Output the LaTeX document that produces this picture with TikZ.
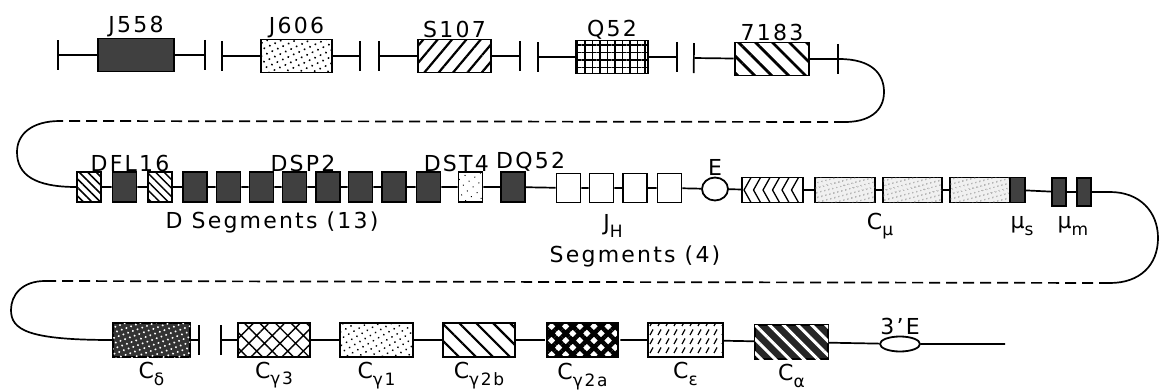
\documentclass[tikz,border=0pt]{standalone}
\usepackage{fontspec}
\setmainfont{DejaVu Sans}[LetterSpace=10]
\usetikzlibrary{patterns,patterns.meta,arrows.meta,shapes.geometric}
\newcommand{\lblfont}{\fontsize{22}{24}\selectfont}
\newcommand{\lowsub}[1]{\raisebox{-0.55ex}{\fontsize{17}{17}\selectfont #1}}
\pgfdeclarepatternformonly{slashdash}{\pgfqpoint{-1pt}{-1pt}}{\pgfqpoint{9pt}{10pt}}{\pgfqpoint{8pt}{9pt}}{%
  \pgfsetlinewidth{1.2pt}\pgfpathmoveto{\pgfqpoint{2pt}{1pt}}\pgfpathlineto{\pgfqpoint{5pt}{6.5pt}}\pgfusepath{stroke}}
\tikzset{
  seg/.style={draw, line width=1.8pt, inner sep=0pt, minimum width=73pt, minimum height=33pt},
  dseg/.style={seg, minimum width=24pt, minimum height=30pt},
  dark/.style={fill=black!75},
  gline/.style={line width=1.7pt},
  gap/.style={gline, dash pattern=on 11pt off 6pt},
  lbl/.style={font=\lblfont, inner sep=1pt},
  toplbl/.style={lbl, label distance=-1pt},
  tickl/.style={gline, {Bar[width=30pt,line width=1.7pt]}-},
  tickr/.style={gline, -{Bar[width=30pt,line width=1.7pt]}},
  chev/.style={path picture={\foreach \k in {0,...,5}{\draw[line width=1.3pt] ([xshift=\k*9.5pt+9pt]path picture bounding box.north west) -- ([xshift=\k*9.5pt+2pt]path picture bounding box.west) -- ([xshift=\k*9.5pt+9pt]path picture bounding box.south west);}}}
}

\begin{document}
\begin{tikzpicture}[x=1pt, y=-1pt]
\useasboundingbox (0,0) rectangle (1161,390);
% V segments
\node[seg, minimum width=76pt, dark, label={[toplbl]above:J558}] (j558) at (136,55) {};
\node[seg, minimum width=71pt, pattern={Dots[distance=6pt,radius=1.1pt,angle=25]}, label={[toplbl]above:J606}] (j606) at (296.5,56) {};
\node[seg, pattern={Lines[angle=50,distance=11pt,line width=2.2pt]}, label={[toplbl]above:S107}] (s107) at (454.5,56) {};
\node[seg, minimum width=72pt, pattern={Hatch[angle=0,distance=7.5pt,line width=1.1pt]}, label={[toplbl]above:Q52}] (q52) at (612,57) {};
\node[seg, minimum width=74pt, pattern={Lines[angle=-45,distance=12pt,line width=2.7pt]}, label={[toplbl]above:7183}] (v7183) at (772,59) {};
\coordinate (t1) at (57,55);
\coordinate (t2) at (206,55);
\coordinate (t3) at (221,56);
\coordinate (t4) at (361,56);
\coordinate (t5) at (378,56);
\coordinate (t6) at (521,56);
\coordinate (t7) at (537,57);
\coordinate (t8) at (678,57);
\coordinate (t9) at (693,58);
\coordinate (t10) at (839,59);
\draw[tickl] (t1) -- (j558);
\draw[tickr] (j558) -- (t2);
\draw[tickl] (t3) -- (j606);
\draw[tickr] (j606) -- (t4);
\draw[tickl] (t5) -- (s107);
\draw[tickr] (s107) -- (t6);
\draw[tickl] (t7) -- (q52);
\draw[tickr] (q52) -- (t8);
\draw[tickl] (t9) -- (v7183);
\draw[tickr] (v7183) -- (t10);
% D segments
\node[dseg, pattern={Lines[angle=-45,distance=6pt,line width=1.5pt]}] (d1) at (89,187) {};
\node[dseg, dark] (d2) at (124.5,187) {};
\node[dseg, pattern={Lines[angle=-45,distance=6pt,line width=1.5pt]}] (d3) at (160,187) {};
\node[dseg, dark] (d4) at (195,187) {};
\node[dseg, dark] (d5) at (228.5,187) {};
\node[dseg, dark] (d6) at (261.5,187) {};
\node[dseg, dark] (d7) at (294.5,187) {};
\node[dseg, dark] (d8) at (328,187) {};
\node[dseg, dark] (d9) at (360.5,187) {};
\node[dseg, dark] (d10) at (394,187) {};
\node[dseg, dark] (d11) at (428.5,187) {};
\node[dseg, pattern={Dots[distance=7pt,radius=0.7pt,angle=35]}] (d12) at (470.5,187) {};
\node[dseg, dark] (d13) at (513,187) {};
\node[lbl, anchor=south] (ldfl) at (130,173) {DFL16};
\node[lbl, anchor=south] (ldsp) at (303,173) {DSP2};
\node[lbl, anchor=south east] (ldst) at (490,173) {DST4};
\node[lbl, anchor=south west] (ldq) at (495,173) {DQ52};
\node[lbl] (ldseg) at (272,222) {D Segments (13)};
% J segments, enhancer, C mu
\node[dseg, fill=white, minimum height=29pt] (jh1) at (568.5,188) {};
\node[dseg, fill=white, minimum height=29pt] (jh2) at (601.5,188) {};
\node[dseg, fill=white, minimum height=29pt] (jh3) at (635,188) {};
\node[dseg, fill=white, minimum height=29pt] (jh4) at (669.5,188) {};
\node[lbl] (ljh) at (613,226) {J\lowsub{H}};
\node[lbl] (lsegs) at (635,256) {Segments (4)};
\node[ellipse, draw, line width=1.8pt, fill=white, inner sep=0pt, minimum width=26pt, minimum height=23pt, label={[lbl]above:E}] (enh) at (715,189) {};
\node[seg, minimum width=61pt, minimum height=25pt, chev] (cmw) at (772.5,190) {};
\node[seg, minimum width=60pt, minimum height=25pt, fill=black!6, postaction={pattern={Dots[distance=4pt,radius=0.7pt,angle=15]}, pattern color=black!60}] (cm1) at (845,190) {};
\node[seg, minimum width=59pt, minimum height=25pt, fill=black!6, postaction={pattern={Dots[distance=4pt,radius=0.7pt,angle=15]}, pattern color=black!60}] (cm2) at (912.5,190) {};
\node[seg, minimum width=60pt, minimum height=25pt, fill=black!6, postaction={pattern={Dots[distance=4pt,radius=0.7pt,angle=15]}, pattern color=black!60}] (cm3) at (980,190) {};
\node[seg, dark, minimum width=15pt, minimum height=25pt] (mus) at (1017.5,190) {};
\node[seg, dark, minimum width=14pt, minimum height=28pt] (mum1) at (1059,192) {};
\node[seg, dark, minimum width=14pt, minimum height=28pt] (mum2) at (1084,192) {};
\node[lbl] (lcmu) at (880,226) {C\lowsub{μ}};
\node[lbl] (lmus) at (1022,226) {μ\lowsub{s}};
\node[lbl] (lmum) at (1073,226) {μ\lowsub{m}};
\draw[gline] (d1) -- (d2) -- (d3) -- (d4) -- (d5) -- (d6) -- (d7) -- (d8) -- (d9) -- (d10) -- (d11) -- (d12) -- (d13) -- (jh1) -- (jh2) -- (jh3) -- (jh4) -- (enh) -- (cmw) -- (cm1) -- (cm2) -- (cm3);
\draw[gline] (mus) -- (mum1) -- (mum2);
% C segments
\node[seg, minimum width=77pt, minimum height=34pt, fill=black!80, postaction={pattern={Dots[distance=5pt,radius=1.1pt,angle=20]}, pattern color=white}, label={[lbl, label distance=3pt]below:C\lowsub{δ}}] (cdel) at (151.5,340) {};
\node[seg, minimum width=72pt, minimum height=34pt, pattern={Hatch[angle=45,distance=11pt,line width=1.4pt]}, label={[lbl, label distance=3pt]below:C\lowsub{γ3}}] (cg3) at (274,340) {};
\node[seg, minimum height=34pt, pattern={Dots[distance=6pt,radius=1pt,angle=30]}, label={[lbl, label distance=3pt]below:C\lowsub{γ1}}] (cg1) at (376.5,340) {};
\node[seg, minimum width=72pt, minimum height=34pt, pattern={Lines[angle=-45,distance=12pt,line width=2.2pt]}, label={[lbl, label distance=3pt]below:C\lowsub{γ2b}}] (cg2b) at (479,340) {};
\node[seg, minimum width=71pt, minimum height=34pt, pattern={Hatch[angle=45,distance=10pt,line width=4.5pt]}, label={[lbl, label distance=3pt]below:C\lowsub{γ2a}}] (cg2a) at (582.5,340) {};
\node[seg, minimum width=75pt, minimum height=34pt, pattern=slashdash, label={[lbl, label distance=3pt]below:C\lowsub{ε}}] (ceps) at (685.5,340) {};
\node[seg, minimum height=34pt, fill=black!85, postaction={pattern={Lines[angle=-45,distance=10pt,line width=3pt]}, pattern color=white}, label={[lbl, label distance=3pt]below:C\lowsub{α}}] (calp) at (791.5,342) {};
\node[ellipse, draw, line width=1.8pt, fill=white, inner sep=0pt, minimum width=40pt, minimum height=15pt, label={[lbl]above:3'E}] (e3) at (900,344) {};
\coordinate (t11) at (200,340);
\coordinate (t12) at (220,340);
\coordinate (rend) at (1005,344);
\draw[tickr] (cdel) -- (t11);
\draw[tickl] (t12) -- (cg3);
\draw[gline] (cg3) -- (cg1) -- (cg2b) -- (cg2a) -- (ceps) -- (calp) -- (e3) -- (rend);
% loops
\coordinate (r1) at (884,92);
\coordinate (r1e) at (845,122);
\coordinate (l1s) at (60,121);
\coordinate (l1) at (17,152);
\draw[gline] (t10) .. controls (872,59) and (884,74) .. (r1) .. controls (884,112) and (868,122) .. (r1e);
\draw[gap] (r1e) -- (l1s);
\draw[gline] (l1s) .. controls (32,121) and (17,134) .. (l1) .. controls (17,175) and (35,187) .. (d1);
\coordinate (r2a) at (1110,192);
\coordinate (r2) at (1158,238);
\coordinate (r2e) at (1110,283);
\coordinate (l2s) at (45,281);
\coordinate (l2) at (11,310);
\draw[gline] (mum2) -- (r2a) .. controls (1140,192) and (1158,212) .. (r2) .. controls (1158,265) and (1140,283) .. (r2e);
\draw[gap] (r2e) -- (l2s);
\draw[gline] (l2s) .. controls (22,281) and (11,295) .. (l2) .. controls (11,330) and (28,340) .. (cdel);
\end{tikzpicture}
\end{document}
